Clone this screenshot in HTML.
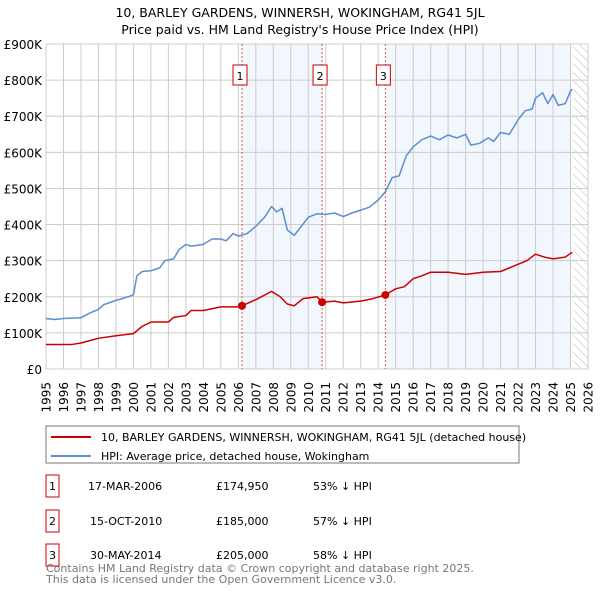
<!DOCTYPE html>
<html><head><meta charset="utf-8"><style>
body{margin:0;background:#fff;font-family:"Liberation Sans","DejaVu Sans",sans-serif}
svg text{font-family:"DejaVu Sans","Liberation Sans",sans-serif}
</style></head><body>
<svg id="c" width="600" height="590" xmlns="http://www.w3.org/2000/svg">
<defs><pattern id="h" width="6" height="6" patternUnits="userSpaceOnUse" patternTransform="rotate(-45)"><line x1="0" y1="0" x2="0" y2="6" stroke="#bbb" stroke-width="1"/></pattern></defs>
<text x="300" y="17" text-anchor="middle" font-size="12.5">10, BARLEY GARDENS, WINNERSH, WOKINGHAM, RG41 5JL</text>
<text x="300" y="34" text-anchor="middle" font-size="12.5">Price paid vs. HM Land Registry's House Price Index (HPI)</text>
<g id="g"></g>
<rect x="46" y="426" width="473" height="37" fill="#fff" stroke="#777"/>
<line x1="51" y1="437" x2="91" y2="437" stroke="#cc0000" stroke-width="2"/>
<text x="101" y="441" font-size="11">10, BARLEY GARDENS, WINNERSH, WOKINGHAM, RG41 5JL (detached house)</text>
<line x1="51" y1="456" x2="91" y2="456" stroke="#5b8fd0" stroke-width="2"/>
<text x="101" y="460" font-size="11">HPI: Average price, detached house, Wokingham</text>
<g font-size="11">
<rect x="46" y="475" width="13" height="22" fill="#fff" stroke="#cc0000"/><text x="52.5" y="490" text-anchor="middle">1</text>
<text x="88" y="490">17-MAR-2006</text><text x="216" y="490">£174,950</text><text x="313" y="490">53% ↓ HPI</text>
<rect x="46" y="510" width="13" height="22" fill="#fff" stroke="#cc0000"/><text x="52.5" y="525" text-anchor="middle">2</text>
<text x="90" y="525">15-OCT-2010</text><text x="216" y="525">£185,000</text><text x="313" y="525">57% ↓ HPI</text>
<rect x="46" y="544" width="13" height="22" fill="#fff" stroke="#cc0000"/><text x="52.5" y="559" text-anchor="middle">3</text>
<text x="90" y="559">30-MAY-2014</text><text x="216" y="559">£205,000</text><text x="313" y="559">58% ↓ HPI</text>
</g>
<text x="46" y="572" font-size="11" fill="#777">Contains HM Land Registry data © Crown copyright and database right 2025.</text>
<text x="46" y="583" font-size="11" fill="#777">This data is licensed under the Open Government Licence v3.0.</text>
</svg>
<script>
const hpiYears=[1995,1995.5,1996,1997,1997.5,1998,1998.3,1999,1999.5,2000,2000.2,2000.5,2001,2001.5,2001.8,2002.3,2002.6,2003,2003.3,2004,2004.5,2005,2005.3,2005.7,2006,2006.5,2007,2007.5,2007.9,2008.2,2008.5,2008.8,2009.2,2009.6,2010,2010.5,2011,2011.5,2012,2012.5,2013,2013.5,2014,2014.4,2014.8,2015.2,2015.6,2016,2016.5,2017,2017.5,2018,2018.5,2019,2019.3,2019.8,2020.3,2020.6,2021,2021.5,2022,2022.4,2022.8,2023,2023.4,2023.7,2024,2024.3,2024.7,2025,2025.1];
const hpiValues=[140,137,140,142,155,165,178,190,197,205,258,270,272,280,300,305,330,345,340,345,360,360,355,375,368,375,395,420,450,435,445,385,370,395,420,430,428,432,422,432,440,448,468,490,530,535,590,615,635,645,635,648,640,650,620,625,640,630,655,650,690,715,720,750,765,735,760,730,735,770,775];
const propYears=[1995,1996.5,1997,1998,1999,2000,2000.5,2001,2002,2002.3,2003,2003.3,2004,2005,2006,2006.2,2007,2007.9,2008.4,2008.8,2009.2,2009.7,2010.5,2010.8,2011.5,2012,2013,2013.7,2014.4,2015,2015.5,2016,2016.5,2017,2018,2019,2020,2021,2022,2022.5,2023,2023.5,2024,2024.7,2025,2025.1];
const propValues=[68,68,72,85,92,98,118,130,130,143,148,162,162,172,172,175,192,215,200,180,175,195,200,185,188,183,188,195,205,222,228,250,258,268,268,262,268,270,290,300,318,310,305,310,320,323];
const saleYears=[2006.21,2010.79,2014.41];
const saleValues=[174.95,185,205];
const saleLabels=["1","2","3"];
const yTicks=[0,100,200,300,400,500,600,700,800,900];
const yTickLabels=["£0","£100K","£200K","£300K","£400K","£500K","£600K","£700K","£800K","£900K"];
const xTicks=[1995,1996,1997,1998,1999,2000,2001,2002,2003,2004,2005,2006,2007,2008,2009,2010,2011,2012,2013,2014,2015,2016,2017,2018,2019,2020,2021,2022,2023,2024,2025,2026];
const shadeRanges=[[2006.21,2010.79],[2014.41,2025.05]];
const dataEnd=2025.15;
const X0=46,X1=588,Y0=369,Y1=44;
const xs=y=>X0+(y-1995)/31*(X1-X0);
const ys=v=>Y0-v/900*(Y0-Y1);
const NS="http://www.w3.org/2000/svg";
const g=document.getElementById('g');
function mk(t,a){const e=document.createElementNS(NS,t);for(const k in a)e.setAttribute(k,a[k]);g.appendChild(e);return e;}
shadeRanges.forEach((r,i)=>{const e=mk('rect',{x:xs(r[0]),y:Y1,width:xs(r[1])-xs(r[0]),height:Y0-Y1,fill:'#eef3fc',opacity:0.75});

});
let hz=mk('rect',{x:xs(dataEnd),y:Y1,width:X1-xs(dataEnd),height:Y0-Y1,fill:'url(#h)'});


xTicks.forEach(t=>{const l=mk('line',{x1:xs(t),x2:xs(t),y1:Y1,y2:Y0,stroke:'#ccc'});


const px=xs(t)+4.5,py=Y0+13;
const tx=mk('text',{x:px,y:py,'text-anchor':'end','font-size':12,transform:'rotate(-90 '+px+' '+py+')'});tx.textContent=t;

});
yTicks.forEach((t,i)=>{const l=mk('line',{x1:X0,x2:X1,y1:ys(t),y2:ys(t),stroke:'#ccc'});


const tx=mk('text',{x:X0-4,y:ys(t)+5,'text-anchor':'end','font-size':12});tx.textContent=yTickLabels[i];

});
saleYears.forEach((s,i)=>{const l=mk('line',{x1:xs(s),x2:xs(s),y1:Y1,y2:Y0,stroke:'#e05050','stroke-dasharray':'2,2'});


const b=mk('rect',{x:xs(s)-9,y:65,width:14,height:20,fill:'#fff',stroke:'#cc0000'});


const tx=mk('text',{x:xs(s)-2,y:80,'text-anchor':'middle','font-size':11});tx.textContent=saleLabels[i];

});
function line(xa,va,col,name){const p=mk('polyline',{points:xa.map((x,i)=>xs(x)+','+ys(va[i])).join(' '),fill:'none',stroke:col,'stroke-width':1.5,'stroke-linejoin':'round'});

}
line(hpiYears,hpiValues,'#5b8fd0','hpi-line');
line(propYears,propValues,'#cc0000','property-line');
saleYears.forEach((s,i)=>{const c=mk('circle',{cx:xs(s),cy:ys(saleValues[i]),r:4,fill:'#cc0000'});

});
</script>
</body></html>
